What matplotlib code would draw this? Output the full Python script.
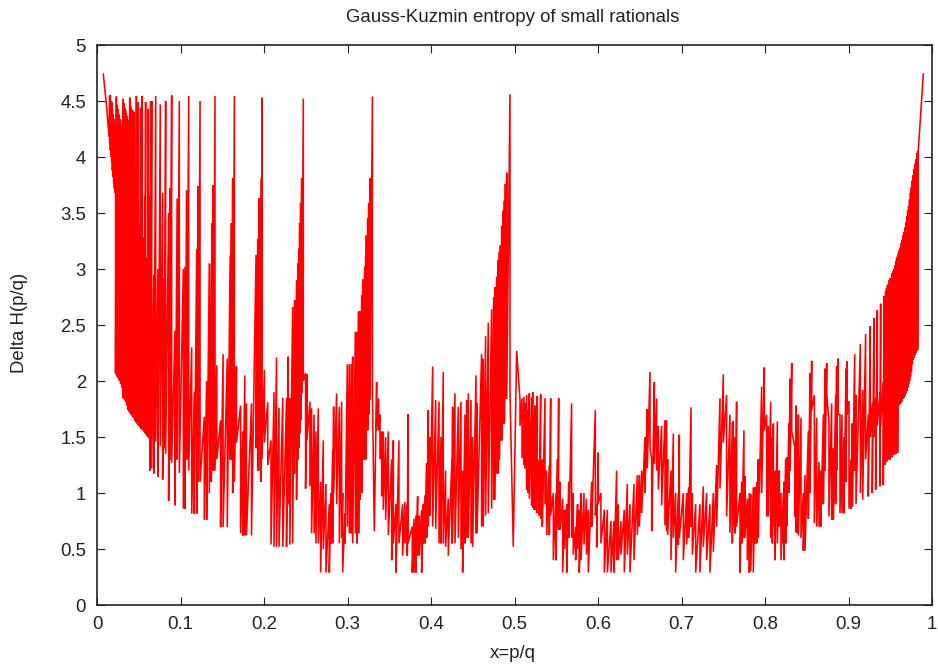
#!/usr/bin/env python3
# -*- coding: utf-8 -*-
import numpy as np
import matplotlib
matplotlib.use("Agg")
import matplotlib.pyplot as plt

plt.rcParams['font.family'] = ['Liberation Sans', 'DejaVu Sans']

# values: each x has an upper and a lower turning point
x_a = [.0075,.0115,.0144,.0152,.016,.0168,.0176,.0184,.0192,.02,
       .0208,.0216,.0222,.0232,.0242,.0252,.0262,.0272,.0282,.0292,
       .0302,.0312,.0322,.0332,.0342,.0352,.0362,.0372,.0382,.0392,
       .0402,.0412,.0422,.0432,.0442,.0452,.0462,.0472,.0482,.0492,
       .0502,.0512,.0522,.0532,.0542,.0552,.0562,.0572,.0582,.0592,
       .0602,.0612,.0622,.0632,.0642]
hi_a = [4.74,4.45,4.18,4.55,4.55,4.5,4.49,4.43,4.38,4.34,
        4.28,4.23,4.2,4.54,4.46,4.43,4.38,4.34,4.33,4.28,
        4.25,4.52,4.48,4.44,4.42,4.38,4.36,4.33,4.31,4.53,
        4.46,4.43,4.42,4.41,4.4,3.5,3.48,4.545,3.45,4.49,
        3.4,3.38,4.44,3.32,4.545,3.28,3.25,3.65,4.49,3.1,
        3.0,4.43,2.95,3.65,4.5]
lo_a = [4.74,4.45,4.18,4.12,4.06,4.0,3.95,3.88,3.82,3.76,
        3.72,3.68,2.07,2.06,2.04,2.03,2.01,2.0,1.98,1.97,
        1.94,1.85,1.84,1.83,1.82,1.81,1.78,1.74,1.73,1.72,
        1.71,1.7,1.69,1.68,1.67,1.65,1.64,1.63,1.62,1.61,
        1.6,1.59,1.58,1.57,1.57,1.56,1.55,1.54,1.53,1.52,
        1.51,1.5,1.49,1.2,1.48]

x_b = [.0655,.068,.0703,.073,.0758,.0786,.0805,.0822,.0858,.0875,
       .0894,.0934,.096,.0986,.1034,.1054,.1074,.1098,.1134,.1165,
       .1194,.1212,.1234,.1285,.1313,.1345,.1369,.1381,.1393,.1413,
       .1435,.148,.151,.156,.1595,.161,.1625,.1645,.167,.172,
       .1745,.177,.179,.185,.1905,.1925,.194,.1965,.1976,.2005,
       .2045,.2084,.212,.215,.218,.2225,.227,.229,.231,.2343,
       .2367,.239,.2407,.2419,.2427,.2439,.2451,.2471,.2498]
hi_b = [4.5,2.95,4.545,3.0,4.47,3.68,2.92,4.5,3.5,3.72,
        4.55,2.45,3.63,4.5,3.0,3.02,3.7,4.545,2.3,1.9,
        3.18,3.74,4.5,1.68,2.0,3.05,3.05,3.41,3.75,4.545,
        2.14,1.65,2.24,2.2,3.12,3.41,3.81,4.545,2.13,1.78,
        1.55,2.05,1.8,1.8,3.125,3.27,3.63,3.81,4.53,2.1,
        1.81,1.47,1.9,2.21,1.76,1.85,1.85,2.217,1.85,2.66,
        2.72,2.9,3.05,3.18,3.41,3.59,3.81,4.52,2.07]
lo_b = [1.22,1.175,1.46,1.145,1.42,1.12,1.4,1.35,.93,1.3,
        1.27,.89,1.3,1.18,.86,.86,1.3,1.2,.815,.815,
        .815,1.1,1.1,.76,.76,1.0,1.1,1.2,1.2,1.2,
        1.3,.695,.695,.695,1.3,1.3,1.0,1.1,1.45,.64,
        .62,.62,.62,.62,1.4,1.2,1.2,1.1,1.3,1.45,
        1.25,.54,.52,.52,.52,.52,.52,.9,.54,.55,
        1.17,.94,1.3,1.4,1.53,1.65,1.89,2.0,1.04]

x_c = [.2515,.255,.257,.26,.2622,.265,.2678,.271,.2742,.2782,
       .2802,.2822,.2834,.287,.2902,.293,.2942,.297,.2998,.3022,
       .3045,.3062,.3094,.3114,.3133,.315,.317,.319,.3206,.3218,
       .3226,.3242,.3254,.327,.3298,.3321,.3349]
hi_c = [2.06,1.815,1.756,1.7,1.55,1.756,1.1,1.47,1.08,.9,
        1.0,1.38,1.77,1.89,1.77,1.815,1.0,.82,2.15,2.15,
        2.15,2.217,2.44,2.44,2.62,2.62,2.77,2.91,3.02,3.12,
        3.3,3.45,3.59,3.81,4.54,.66,1.99]
lo_c = [1.47,1.06,.64,.64,.55,.55,.29,.5,.29,.29,
        .55,.55,1.0,.9,.55,.6,.29,.55,.7,.64,
        .64,.55,.64,.55,.64,.94,1.0,1.3,1.3,1.3,
        1.56,1.56,1.7,1.83,1.9,.66,1.56]

x_d = [.3373,.3389,.3409,.3429,.3457,.3489,.3529,.3549,.3581,.3616,
       .366,.3688,.3716,.3724,.3776,.3796,.382,.384,.386,.3888,
       .3908,.3928,.3948,.3968,.3988,.402,.4056,.4096,.412,.4147,
       .4175,.4207,.4251,.4259,.4287,.4327,.4359,.4379,.4407,.4427,
       .4447,.4479,.4499,.4539,.4551,.4606,.4626,.4654,.4686,.4726,
       .4751,.4766,.4787,.4806,.4819,.4831,.4847,.4863,.4879,.4891,
       .4907,.4946,.4985,.5026]
hi_d = [1.845,1.7,1.55,1.55,1.5,1.55,1.3,1.47,.9,1.47,
        .9,.92,.9,1.705,.7,.77,.8,.97,.8,.85,
        .9,.98,1.265,1.74,1.5,2.13,1.83,1.815,1.5,2.08,
        1.2,.95,1.3,1.77,1.89,1.77,1.815,1.2,1.7,1.83,
        1.89,1.83,1.5,2.05,1.8,2.24,2.2,2.4,2.52,2.64,
        2.75,2.84,2.93,3.08,3.15,3.21,3.38,3.52,3.61,3.76,
        3.86,4.56,.52,2.27]
lo_d = [1.56,1.3,.97,.85,.76,.625,.4,.55,.29,.55,
        .44,.55,.44,.55,.29,.29,.29,.44,.44,.29,
        .55,.55,.6,.7,.8,.7,.68,.55,.55,.55,
        .52,.44,.55,.6,.55,.6,.5,.29,.55,.6,
        .6,.55,.52,.64,.64,.7,.7,.8,.82,.86,
        .94,.94,1.175,1.175,1.3,1.47,1.47,1.62,1.62,1.84,
        1.84,1.9,.52,2.27]

x_e = [.5066,.509,.5114,.5126,.5146,.5162,.5178,.5205,.5218,.5233,
       .5245,.5265,.5273,.5295,.5313,.5333,.5365,.5385,.5417,.5433,
       .5465,.5497,.5515,.5529,.5545,.5577,.56,.5625,.565,.5684,
       .5704,.5732,.5755,.5776,.5796,.5832,.5862,.5884,.5924,.5968,
       .5984,.6,.6035,.6076,.6112,.6156,.6191,.6223,.6243,.6275,
       .6315,.6351,.6383,.6431,.6471,.6495,.6523,.6563,.659,.6623,
       .6643,.6675,.6702,.6722,.6762,.6802,.6822,.6834,.6874,.6902,
       .693,.6962,.6974,.7022,.7062,.7085,.7114,.713,.717,.7221,
       .7261,.7301,.7341,.7381,.7421,.7461,.7501]
hi_e = [1.83,1.845,1.86,1.8,1.875,1.75,1.89,1.85,1.9,1.7,
        1.78,1.4,1.866,1.3,1.88,1.3,1.845,1.2,1.25,1.845,
        1.0,1.0,1.3,1.845,1.1,.95,.85,.9,1.1,1.8,
        1.0,.7,.9,.85,1.0,1.0,.95,.85,1.1,1.74,
        .9,1.36,1.0,.85,.85,.75,.75,1.2,.9,.75,
        .85,1.08,.9,1.08,1.16,1.16,1.2,1.5,1.75,2.08,
        1.3,1.99,1.845,1.6,1.6,1.65,1.65,1.3,1.2,1.53,
        1.0,1.0,1.52,1.0,1.0,1.05,1.765,1.0,.9,.9,
        1.06,1.0,.9,1.0,1.25,1.845,2.06]
lo_e = [1.6,1.31,1.25,1.22,1.03,1.0,.95,.89,.87,.85,
        .85,.82,1.0,.8,.77,.7,.9,.625,.625,.8,
        .4,.4,.7,.67,.67,.29,.5,.29,.6,.6,
        .45,.4,.5,.29,.4,.54,.45,.29,.7,.8,
        .515,.9,.55,.29,.29,.29,.29,.4,.4,.45,
        .29,.45,.29,.4,.625,.7,.82,1.0,1.22,1.4,
        .66,1.26,1.2,1.03,.89,.71,.66,.625,.4,.6,
        .29,.54,.6,.4,.54,.6,.7,.45,.29,.29,
        .52,.4,.29,.475,.7,1.04,1.45]

x_f = [.754,.758,.7609,.762,.7641,.766,.7701,.7721,.7748,.776,
       .7788,.7812,.7828,.786,.788,.79,.792,.7932,.796,.7992,
       .802,.804,.8068,.8088,.81,.812,.8148,.8172,.8192,.822,
       .8228,.8248,.826,.8287,.83,.832,.8359,.8371,.8387,.84,
       .8431,.8459,.8479,.8519,.8539,.8559,.8591,.8619,.8647,.8667,
       .8699,.8719,.8739,.8766,.8798,.8818,.8846,.8858,.8874,.8898,
       .8922,.8946,.897,.8982,.9006,.903,.9046,.9074,.909,.9142,
       .917,.9205,.9237,.9261,.9285,.9305,.9325,.9345,.9377,.9385,
       .9417,.9425,.9437]
hi_f = [1.875,1.7,1.63,1.64,1.5,1.815,1.0,1.1,1.56,1.15,
        .95,1.0,.99,1.05,1.05,1.1,1.3,1.3,1.95,2.12,
        1.7,1.6,1.815,1.5,1.62,1.2,1.64,1.2,1.0,1.0,
        1.1,1.3,1.32,1.62,2.02,2.16,1.4,1.78,1.5,1.7,
        1.67,1.0,1.16,1.55,2.07,2.18,1.875,1.67,1.28,1.2,
        1.7,2.11,2.16,1.63,1.8,1.4,1.87,2.13,2.2,1.7,
        1.7,1.5,2.11,2.175,1.82,1.3,1.62,2.24,1.875,2.33,
        1.92,2.42,1.7,2.49,1.8,2.56,1.85,2.63,1.9,2.69,
        2.0,2.76,2.3]
lo_f = [.79,.645,.55,.7,.64,.7,.29,.55,.6,.6,
        .4,.29,.3,.29,.55,.55,.6,1.0,1.0,1.56,
        .79,.79,.6,.55,.7,.4,.55,.7,.4,.55,
        .4,.55,.7,1.0,1.2,1.55,.79,.65,.645,.62,
        .6,.485,.485,.77,1.0,1.74,.73,.7,.7,.7,
        .9,1.2,1.89,.79,.76,.76,.9,1.2,1.7,.82,
        .82,.82,1.1,1.7,.86,.86,.88,1.2,.9,1.0,
        .94,1.3,.97,1.5,1.0,1.5,1.03,1.6,1.06,1.6,
        1.07,1.6,1.25]

x_g = [.9445,.9456,.9467,.9478,.9489,.95,.9511,.9522,.9533,.9544,
       .9555,.9566,.9577,.9588,.9599,.961,.9621,.9632,.9643,.9654,
       .9665,.9676,.9687,.9698,.9709,.972,.9731,.9742,.9753,.9764,
       .9775,.9786,.9797,.9808,.9819,.9828,.9835,.9896]
hi_g = [2.8,2.83,2.86,2.7,2.9,2.92,2.75,2.96,2.98,3.0,
        3.03,3.07,3.1,3.12,3.15,3.17,3.19,3.23,3.26,3.3,
        3.33,3.37,3.42,3.47,3.52,3.56,3.62,3.68,3.73,3.79,
        3.84,3.89,3.94,3.98,4.03,4.05,4.05,4.74]
lo_g = [1.7,1.28,1.72,1.3,1.73,1.3,1.74,1.32,1.74,1.34,
        1.75,1.35,1.75,1.36,1.78,1.79,1.8,1.81,1.82,1.84,
        1.85,1.87,1.89,1.91,1.94,1.97,2.0,2.04,2.08,2.15,
        2.19,2.21,2.23,2.25,2.27,2.28,4.05,4.74]

x_ticks = [0, 0.1, 0.2, 0.3, 0.4, 0.5, 0.6, 0.7, 0.8, 0.9, 1]
x_labels = ["0", "0.1", "0.2", "0.3", "0.4", "0.5", "0.6", "0.7", "0.8", "0.9", "1"]
y_ticks = [0, 0.5, 1, 1.5, 2, 2.5, 3, 3.5, 4, 4.5, 5]
y_labels = ["0", "0.5", "1", "1.5", "2", "2.5", "3", "3.5", "4", "4.5", "5"]

x = np.concatenate([x_a, x_b, x_c, x_d, x_e, x_f, x_g])
hi = np.concatenate([hi_a, hi_b, hi_c, hi_d, hi_e, hi_f, hi_g])
lo = np.concatenate([lo_a, lo_b, lo_c, lo_d, lo_e, lo_f, lo_g])

# zigzag through hi, lo at every x
xs = np.repeat(x, 2)
ys = np.column_stack([hi, lo]).ravel()

W, H = 938, 668
fig = plt.figure(figsize=(W / 100, H / 100), dpi=100)
ax = fig.add_axes([97 / W, 1 - 605 / H, 835 / W, 560 / H])
ax.plot(xs, ys, color="#ff0000", lw=1.15, solid_joinstyle="bevel")

ax.set_xlim(0, 1)
ax.set_ylim(0, 5)
ax.set_xticks(x_ticks)
ax.set_xticklabels(x_labels)
ax.set_yticks(y_ticks)
ax.set_yticklabels(y_labels)
ax.tick_params(direction="in", top=True, right=True, length=6, width=0.8,
               labelsize=13.4, color="#222222", labelcolor="#222222", pad=8)
for s in ax.spines.values():
    s.set_linewidth(1.2)
    s.set_color("#222222")

fig.text(513 / W, 1 - 17 / H, "Gauss-Kuzmin entropy of small rationals",
         ha="center", va="center", fontsize=13.4, color="#222222")
fig.text(513 / W, 1 - 653 / H, "x=p/q", ha="center", va="center",
         fontsize=13.4, color="#222222")
fig.text(20 / W, 1 - 323 / H, "Delta H(p/q)", ha="center", va="center",
         rotation=90, fontsize=13.4, color="#222222")

fig.savefig("out.png", dpi=100)
